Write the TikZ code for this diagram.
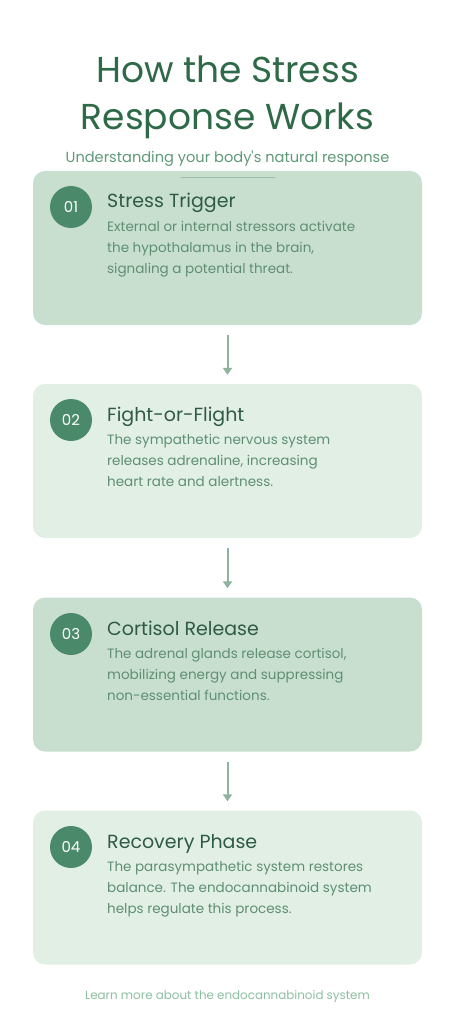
\documentclass[tikz,border=0pt]{standalone}
\usepackage{fontspec}
\setmainfont{Poppins}
\usetikzlibrary{arrows.meta}
\definecolor{titlegreen}{HTML}{2F6A48}
\definecolor{subgreen}{HTML}{5E9A77}
\definecolor{boxdark}{HTML}{C8DFD0}
\definecolor{boxlight}{HTML}{E1EFE5}
\definecolor{circgreen}{HTML}{4A8A6A}
\definecolor{steptitle}{HTML}{2F5A45}
\definecolor{bodygreen}{HTML}{5F8F73}
\definecolor{arrowgreen}{HTML}{8FB39E}
\definecolor{footgreen}{HTML}{8DBFA0}
\definecolor{divgreen}{HTML}{9DBDA8}
\tikzset{
  card/.style={rectangle, rounded corners=12pt, minimum width=389pt, minimum height=154pt, inner sep=0pt, draw=none},
  numcirc/.style={circle, fill=circgreen, minimum size=42pt, inner sep=0pt, text=white, font=\fontsize{15}{15}\selectfont},
  steptitlestyle/.style={anchor=base west, inner sep=0pt, text=steptitle, font=\fontsize{19}{19}\selectfont},
  bodystyle/.style={anchor=north west, inner sep=0pt, text=bodygreen, align=left, font=\fontsize{13.5}{20.8}\selectfont},
  flow/.style={draw=arrowgreen, line width=2pt, -{Triangle[width=9pt,length=7pt]}, shorten <=10pt, shorten >=9pt}
}
\begin{document}
\begin{tikzpicture}[x=1pt,y=-1pt]
\useasboundingbox[fill=white] (0,0) rectangle (455,1024);
% title
\node[text=titlegreen, font=\fontsize{36}{47}\selectfont, align=center, inner sep=0pt] (title) at (227.5,97.5) {How the Stress\\Response Works};
\node[text=subgreen, font=\fontsize{14.6}{14.6}\selectfont, inner sep=0pt] (subtitle) at (227.5,159) {Understanding your body\textquotesingle s natural response};
\coordinate (dl) at (181,178);
\coordinate (dr) at (275,178);
% cards
\node[card, fill=boxdark] (b1) at (227.5,248) {};
\node[card, fill=boxlight] (b2) at (227.5,461) {};
\node[card, fill=boxdark] (b3) at (227.5,674.5) {};
\node[card, fill=boxlight] (b4) at (227.5,887.5) {};
\draw[divgreen, line width=1pt] (dl) -- (dr);
% circles
\node[numcirc] (c1) at (71,207) {01};
\node[numcirc] (c2) at (71,420) {02};
\node[numcirc] (c3) at (71,634) {03};
\node[numcirc] (c4) at (71,847) {04};
% step titles
\node[steptitlestyle] (t1) at (107,208) {Stress Trigger};
\node[steptitlestyle] (t2) at (107,421) {Fight-or-Flight};
\node[steptitlestyle] (t3) at (107,635) {Cortisol Release};
\node[steptitlestyle] (t4) at (107,848) {Recovery Phase};
% bodies
\node[bodystyle] (d1) at (107,221) {External or internal stressors activate\\the hypothalamus in the brain,\\signaling a potential threat.};
\node[bodystyle] (d2) at (107,434) {The sympathetic nervous system\\releases adrenaline, increasing\\heart rate and alertness.};
\node[bodystyle] (d3) at (107,648) {The adrenal glands release cortisol,\\mobilizing energy and suppressing\\non-essential functions.};
\node[bodystyle] (d4) at (107,861) {The parasympathetic system restores\\balance. The endocannabinoid system\\helps regulate this process.};
% arrows
\draw[flow] (b1.south) -- (b2.north);
\draw[flow] (b2.south) -- (b3.north);
\draw[flow] (b3.south) -- (b4.north);
% footer
\node[text=footgreen, font=\fontsize{11.9}{11.9}\selectfont, inner sep=0pt] (footer) at (227.5,996) {Learn more about the endocannabinoid system};
\end{tikzpicture}
\end{document}
